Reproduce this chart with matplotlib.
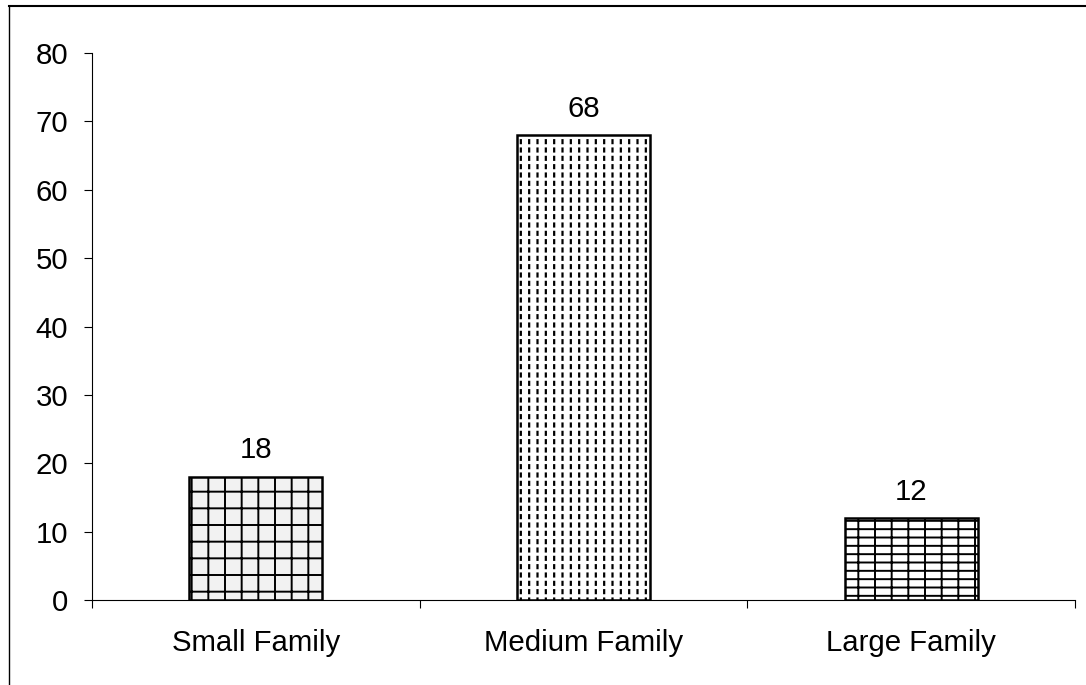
import matplotlib.pyplot as plt
from matplotlib.lines import Line2D

categories = ["Small Family", "Medium Family", "Large Family"]
values = [18, 68, 12]
hatches = ["+", "||", "--|"]
fills = ["#f2f2f2", "#ffffff", "#ffffff"]

plt.rcParams["font.family"] = ["Liberation Sans", "DejaVu Sans"]
fs = 21.2

fig = plt.figure(figsize=(10.86, 6.85), dpi=100)
ax = fig.add_axes([0.0847, 0.124, 0.9052, 0.7986])

x = list(range(len(categories)))
w = 0.405

# hatched bars
for xi, v, h, fc in zip(x, values, hatches, fills):
    plt.rcParams["hatch.linewidth"] = 1.4 if h != "||" else 1.6
    ax.bar(xi, v, width=w, color=fc, edgecolor="black", linewidth=0, hatch=h)

# break the vertical lines of the middle bar into dashes
plt.rcParams["hatch.linewidth"] = 2.3
ax.bar(x[1], values[1], width=w, color="none", edgecolor="white", linewidth=0, hatch="--")

# outlines
ax.bar(x, values, width=w, color="none", edgecolor="black", linewidth=1.8)

for xi, v in zip(x, values):
    ax.annotate(str(v), (xi, v), xytext=(0, 9), textcoords="offset points",
                ha="center", va="bottom", fontsize=fs)

ax.set_xlim(-0.5, 2.5)
ax.set_ylim(0, 80)
ax.set_yticks(range(0, 81, 10))
ax.tick_params(axis="y", labelsize=fs, length=6, width=0.8, direction="out", pad=11)
ax.set_xticks([-0.5, 0.5, 1.5, 2.5])
ax.set_xticklabels([])
ax.tick_params(axis="x", length=6, width=0.8, direction="out")
ax.set_xticks(x, minor=True)
ax.set_xticklabels(categories, minor=True)
ax.tick_params(axis="x", which="minor", length=0, labelsize=fs, pad=21)

for s in ["top", "right"]:
    ax.spines[s].set_visible(False)
ax.spines["left"].set_linewidth(0.8)
ax.spines["bottom"].set_linewidth(0.8)

# outer frame (top and left edges visible)
fig.add_artist(Line2D([9 / 1086, 1.0], [1 - 6 / 685, 1 - 6 / 685], color="black", lw=1.5, transform=fig.transFigure))
fig.add_artist(Line2D([9 / 1086, 9 / 1086], [0, 1 - 6 / 685], color="black", lw=1.0, transform=fig.transFigure))

fig.savefig("out.png", dpi=100)
